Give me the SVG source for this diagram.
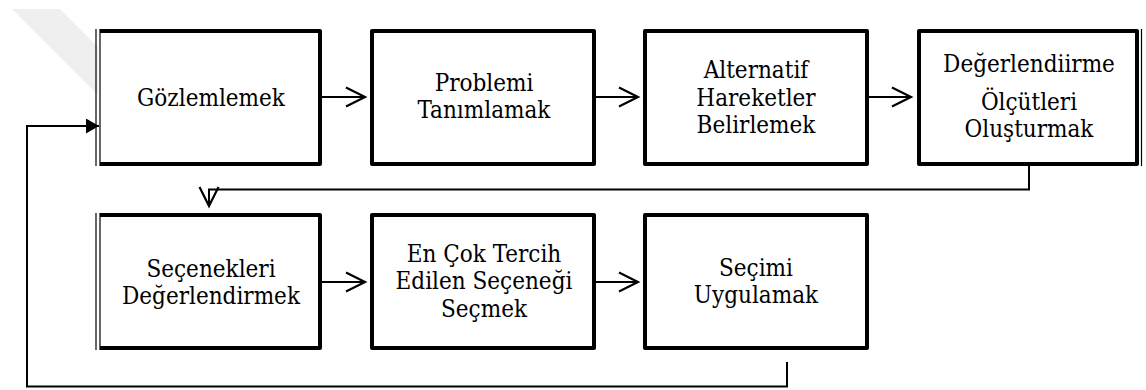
<svg xmlns="http://www.w3.org/2000/svg" width="1146" height="390" viewBox="0 0 1146 390">
  <style>
    .thick { fill: #ffffff; stroke: #000; stroke-width: 4; stroke-linejoin: round; }
    .thin { fill: none; stroke: #000; stroke-width: 1.2; }
    .conn { fill: none; stroke: #000; stroke-width: 2; }
    .lbl { font-family: 'DejaVu Serif Condensed', 'DejaVu Serif', serif; font-stretch: condensed; font-size: 24px; fill: #000; text-anchor: middle; }
  </style>
  <defs>
    <marker id="open" markerUnits="userSpaceOnUse" markerWidth="24" markerHeight="24" viewBox="-2 -2 24 24" refX="19" refY="9.5" orient="auto">
      <path d="M0,0 L19,9.5 L0,19" fill="none" stroke="#000" stroke-width="2.2"/>
    </marker>
    <marker id="solid" markerUnits="userSpaceOnUse" markerWidth="16" markerHeight="16" viewBox="0 0 16 16" refX="13" refY="7.5" orient="auto">
      <path d="M0,0 L13,7.5 L0,15 Z" fill="#000"/>
    </marker>
  </defs>
  <rect width="1146" height="390" fill="#ffffff"/>
  <polygon points="12,9 60,9 98,47 98,95" fill="#efefef"/>

  <g id="connectors">
    <line class="conn" x1="322" y1="97" x2="365" y2="97" marker-end="url(#open)"/>
    <line class="conn" x1="596" y1="97" x2="638" y2="97" marker-end="url(#open)"/>
    <line class="conn" x1="869" y1="97" x2="911" y2="97" marker-end="url(#open)"/>
    <line class="conn" x1="322" y1="282" x2="365" y2="282" marker-end="url(#open)"/>
    <line class="conn" x1="596" y1="282" x2="638" y2="282" marker-end="url(#open)"/>
    <path class="conn" d="M1029,166 V189.5 H209 V206" marker-end="url(#open)"/>
    <path class="conn" d="M787,362 V386.5 H27 V126 H99" marker-end="url(#solid)"/>
  </g>

  <g id="node1">
    <rect x="100" y="31" width="220" height="133" fill="#fff" stroke="none"/>
    <path class="thick" d="M100,31 H320 V164 H100" fill="none"/>
    <line class="thin" x1="96" y1="29" x2="96" y2="166"/>
    <line class="thin" x1="100" y1="29" x2="100" y2="166"/>
    <text class="lbl" x="211" y="106">Gözlemlemek</text>
  </g>
  <g id="node2">
    <rect class="thick" x="372" y="31" width="222" height="133"/>
    <text class="lbl" x="484" y="91">Problemi</text>
    <text class="lbl" x="484" y="118">Tanımlamak</text>
  </g>
  <g id="node3">
    <rect class="thick" x="645" y="31" width="222" height="133"/>
    <text class="lbl" x="756" y="78">Alternatif</text>
    <text class="lbl" x="756" y="105.5">Hareketler</text>
    <text class="lbl" x="756" y="133">Belirlemek</text>
  </g>
  <g id="node4">
    <rect class="thick" x="919" y="31" width="218" height="133"/>
    <line class="thin" x1="1141.5" y1="29" x2="1141.5" y2="166"/>
    <text class="lbl" x="1029" y="72">Değerlendiirme</text>
    <text class="lbl" x="1029" y="110">Ölçütleri</text>
    <text class="lbl" x="1029" y="137">Oluşturmak</text>
  </g>
  <g id="node5">
    <rect x="100" y="215" width="220" height="133" fill="#fff" stroke="none"/>
    <path class="thick" d="M100,215 H320 V348 H100" fill="none"/>
    <line class="thin" x1="96" y1="213" x2="96" y2="350"/>
    <line class="thin" x1="100" y1="213" x2="100" y2="350"/>
    <text class="lbl" x="211" y="277">Seçenekleri</text>
    <text class="lbl" x="211" y="303.5">Değerlendirmek</text>
  </g>
  <g id="node6">
    <rect class="thick" x="372" y="215" width="222" height="133"/>
    <text class="lbl" x="484" y="262">En Çok Tercih</text>
    <text class="lbl" x="484" y="289">Edilen Seçeneği</text>
    <text class="lbl" x="484" y="317">Seçmek</text>
  </g>
  <g id="node7">
    <rect class="thick" x="645" y="215" width="222" height="133"/>
    <text class="lbl" x="756" y="276">Seçimi</text>
    <text class="lbl" x="756" y="303">Uygulamak</text>
  </g>
</svg>
